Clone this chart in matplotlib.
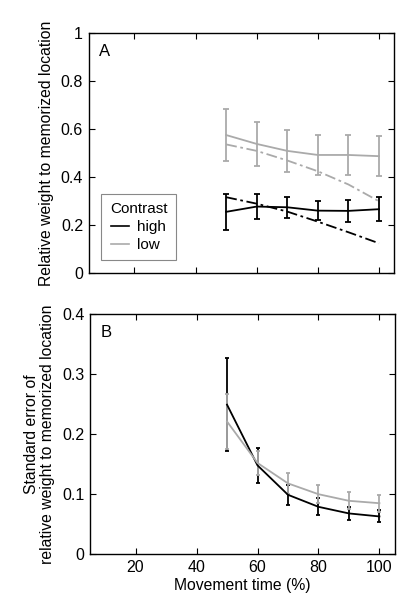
import matplotlib
matplotlib.use("Agg")
import matplotlib.pyplot as plt
from matplotlib.lines import Line2D

plt.rcParams['font.family'] = ['Liberation Sans', 'DejaVu Sans']

time_pct = [50, 60, 70, 80, 90, 100]

# Panel A: relative weight to memorized location
wA_high = [0.256, 0.278, 0.275, 0.261, 0.260, 0.267]
wA_high_err = [0.075, 0.052, 0.044, 0.041, 0.047, 0.049]
wA_low = [0.576, 0.539, 0.510, 0.493, 0.493, 0.488]
wA_low_err = [0.110, 0.090, 0.086, 0.085, 0.084, 0.083]
wA_high_model = [0.317, 0.290, 0.257, 0.215, 0.171, 0.125]
wA_low_model = [0.537, 0.510, 0.470, 0.425, 0.370, 0.300]

# Panel B: standard error of relative weight
seB_high = [0.249, 0.148, 0.099, 0.079, 0.068, 0.063]
seB_high_err = [0.077, 0.029, 0.017, 0.014, 0.011, 0.010]
seB_low = [0.221, 0.152, 0.118, 0.100, 0.089, 0.085]
seB_low_err = [0.045, 0.020, 0.018, 0.015, 0.014, 0.0145]

xticks = [20, 40, 60, 80, 100]
yticksA = [0, 0.2, 0.4, 0.6, 0.8, 1]
yticksB = [0, 0.1, 0.2, 0.3, 0.4]

BLACK = 'black'
GRAY = '#aaaaaa'

fig = plt.figure(figsize=(4.12, 6.01), dpi=100)
axA = fig.add_axes([0.215, 0.5453, 0.742, 0.3993])
axB = fig.add_axes([0.218, 0.0777, 0.740, 0.4000])

def style(ax):
    ax.tick_params(direction='in', top=True, right=True, length=4, width=0.8,
                   labelsize=11.5, pad=4)
    for s in ax.spines.values():
        s.set_linewidth(1.0)
    ax.set_xlim(5, 105)
    ax.set_xticks(xticks)

# Panel A
ax = axA
ax.plot(time_pct, wA_low_model, color=GRAY, lw=1.3, ls=(0, (6, 2, 1.5, 2)))
ax.plot(time_pct, wA_high_model, color=BLACK, lw=1.3, ls=(0, (6, 2, 1.5, 2)))
ax.errorbar(time_pct, wA_low, yerr=wA_low_err, color=GRAY, lw=1.3,
            elinewidth=1.3, capsize=2, capthick=1.3)
ax.errorbar(time_pct, wA_high, yerr=wA_high_err, color=BLACK, lw=1.3,
            elinewidth=1.3, capsize=2, capthick=1.3)
style(ax)
ax.set_ylim(0, 1)
ax.set_yticks(yticksA)
ax.set_yticklabels(['0', '0.2', '0.4', '0.6', '0.8', '1'])
ax.set_xticklabels([])
ax.set_ylabel('Relative weight to memorized location', fontsize=11.3, labelpad=5)
ax.text(0.035, 0.955, 'A', transform=ax.transAxes, fontsize=12, va='top', ha='left')
handles = [Line2D([], [], color=BLACK, lw=1.2), Line2D([], [], color=GRAY, lw=1.2)]
leg = ax.legend(handles, ['high', 'low'], title='Contrast', loc='lower left',
                bbox_to_anchor=(0.042, 0.054), borderaxespad=0,
                fontsize=11, title_fontsize=11,
                handlelength=1.2, handletextpad=0.5, fancybox=False,
                edgecolor='#888888', framealpha=1, borderpad=0.55, labelspacing=0.25)
leg.get_frame().set_linewidth(0.8)

# Panel B
ax = axB
ax.errorbar(time_pct, seB_high, yerr=seB_high_err, color=BLACK, lw=1.3,
            elinewidth=1.3, capsize=1.5, capthick=1.3)
ax.errorbar(time_pct, seB_low, yerr=seB_low_err, color=GRAY, lw=1.3,
            elinewidth=1.3, capsize=1.5, capthick=1.3)
style(ax)
ax.set_ylim(0, 0.4)
ax.set_yticks(yticksB)
ax.set_yticklabels(['0', '0.1', '0.2', '0.3', '0.4'])
ax.set_xlabel('Movement time (%)', fontsize=11.3, labelpad=2)
ax.set_ylabel('Standard error of\nrelative weight to memorized location',
              fontsize=11.3, labelpad=5, linespacing=1.1)
ax.text(0.035, 0.955, 'B', transform=ax.transAxes, fontsize=12, va='top', ha='left')

fig.savefig('out.png', dpi=100)
